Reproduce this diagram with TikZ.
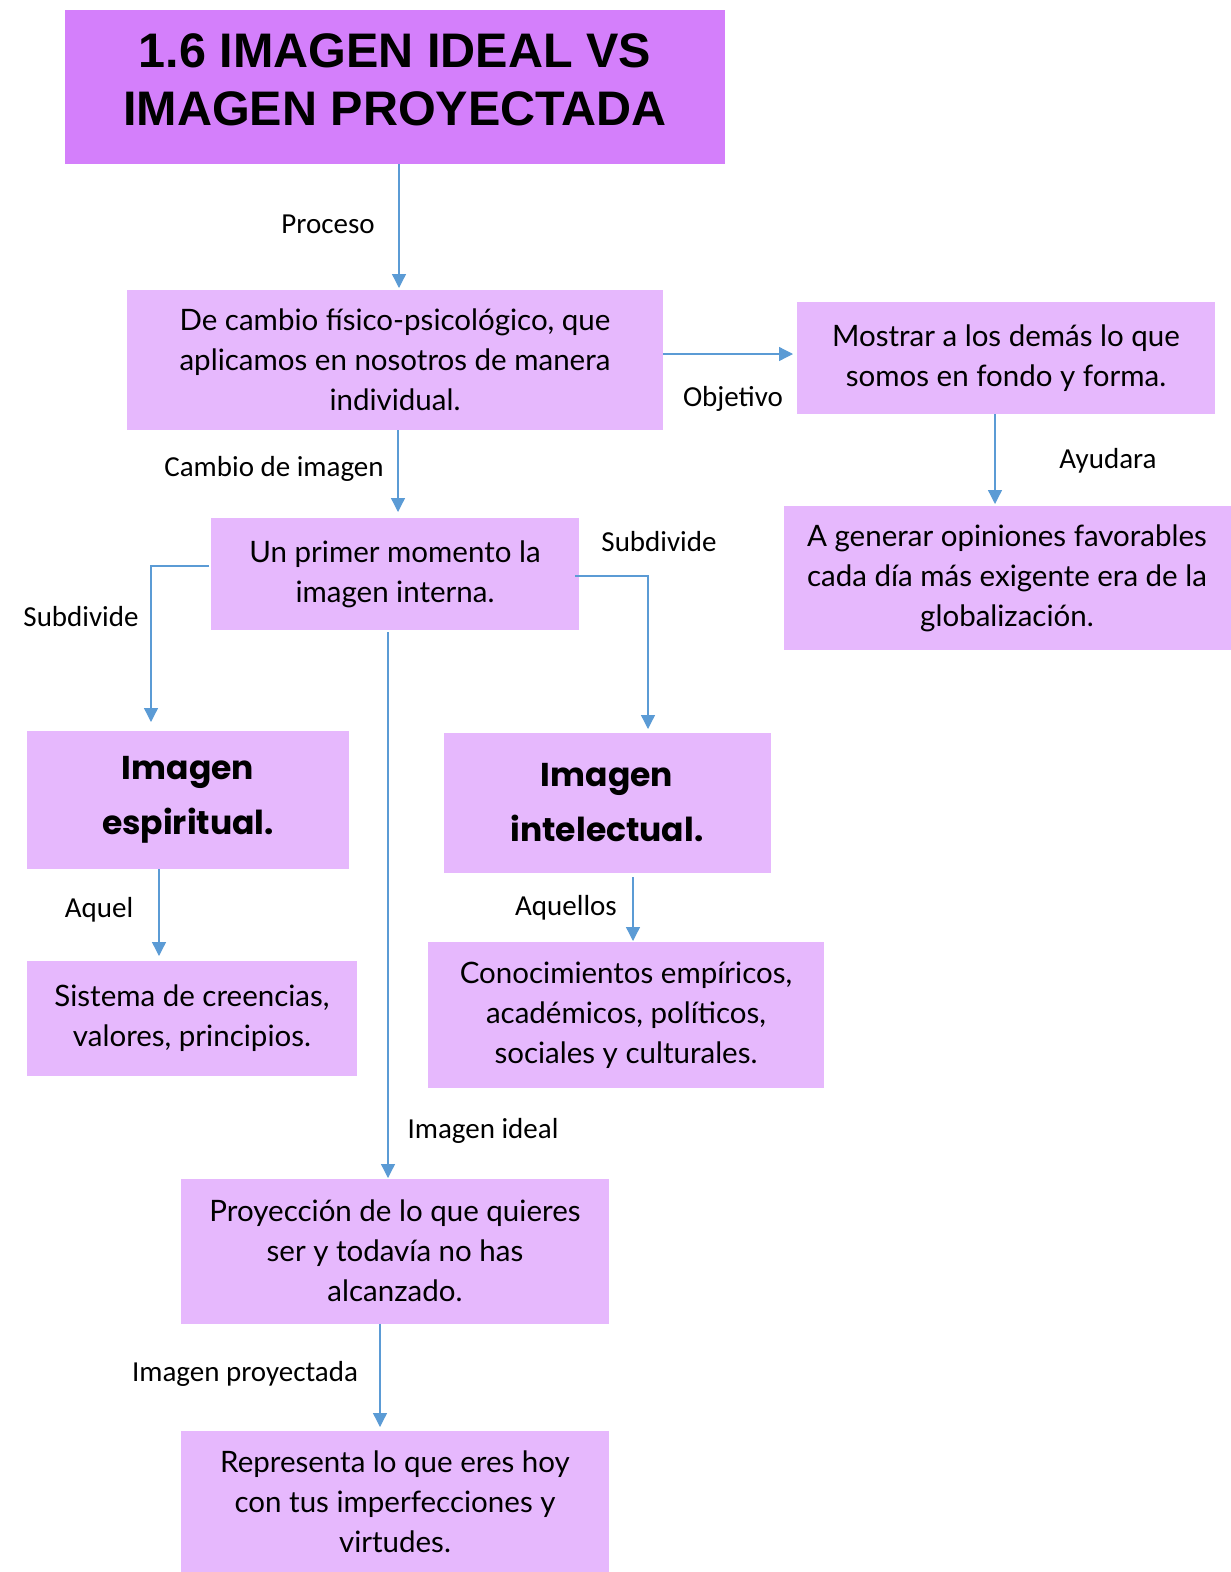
\documentclass[tikz,border=0pt]{standalone}
\usepackage{fontspec}
\setmainfont{Lato}
\newfontfamily\titlefont{Liberation Sans}
\newfontfamily\labelfont{Carlito}
\newfontfamily\handfont{Poppins}
\usetikzlibrary{arrows.meta}
\definecolor{titlefill}{HTML}{D47FFB}
\definecolor{boxfill}{HTML}{E6B8FD}
\definecolor{linkblue}{HTML}{5B9BD5}
\tikzset{
  titlebox/.style={fill=titlefill, inner sep=0pt, align=center, font=\titlefont\bfseries\fontsize{48.5}{58}\selectfont},
  textbox/.style={fill=boxfill, inner sep=0pt, align=center, font=\fontsize{29.5}{40}\selectfont},
  handbox/.style={fill=boxfill, inner sep=0pt, align=center, font=\handfont\bfseries\fontsize{33}{55}\selectfont},
  linklabel/.style={align=left, font=\labelfont\fontsize{29}{32}\selectfont},
  link/.style={draw=linkblue, line width=1.3pt, -{Triangle[width=14pt,length=14pt]}}
}

\begin{document}
\begin{tikzpicture}[x=1pt, y=-1pt]
\useasboundingbox (0,0) rectangle (1231,1572);

\node[titlebox, minimum width=660pt, text height=115pt, text depth=39pt, anchor=north] (title) at (395,10) {1.6 IMAGEN IDEAL VS\\IMAGEN PROYECTADA};

\node[textbox, minimum width=536pt, minimum height=140pt] (proceso) at (395,360) {De cambio físico-psicológico, que\\aplicamos en nosotros de manera\\individual.};

\node[textbox, minimum width=418pt, minimum height=112pt] (mostrar) at (1006,358) {Mostrar a los demás lo que\\somos en fondo y forma.};

\node[textbox, minimum width=447pt, minimum height=144pt] (generar) at (1007,578) {A generar opiniones favorables\\cada día más exigente era de la\\globalización.};

\node[textbox, minimum width=368pt, minimum height=112pt] (primer) at (395,574) {Un primer momento la\\imagen interna.};

\node[handbox, minimum width=322pt, minimum height=138pt] (espiritual) at (188,800) {Imagen\\espiritual.};

\node[handbox, minimum width=327pt, minimum height=140pt] (intelectual) at (607,803) {Imagen\\intelectual.};

\node[textbox, minimum width=330pt, minimum height=115pt] (creencias) at (192,1018) {Sistema de creencias,\\valores, principios.};

\node[textbox, minimum width=396pt, minimum height=146pt] (conocim) at (626,1015) {Conocimientos empíricos,\\académicos, políticos,\\sociales y culturales.};

\node[textbox, minimum width=428pt, minimum height=145pt] (proyeccion) at (395,1251) {Proyección de lo que quieres\\ser y todavía no has\\alcanzado.};

\node[textbox, minimum width=428pt, minimum height=141pt, anchor=north] (representa) at (395,1431) {Representa lo que eres hoy\\con tus imperfecciones y\\virtudes.};

% link labels
\node[linklabel] (lproceso) at (328,224) {Proceso};
\node[linklabel] (lobjetivo) at (733,399) {Objetivo};
\node[linklabel] (layudara) at (1108,461) {Ayudara};
\node[linklabel] (lcambio) at (274,469) {Cambio de imagen};
\node[linklabel] (lsubizq) at (81,617) {Subdivide};
\node[linklabel] (lsubder) at (659,542) {Subdivide};
\node[linklabel] (laquel) at (99,910) {Aquel};
\node[linklabel] (laquellos) at (566,908) {Aquellos};
\node[linklabel] (lideal) at (483,1131) {Imagen ideal};
\node[linklabel] (lproyect) at (245,1374) {Imagen proyectada};

% connectors
\coordinate (tproc) at (399,288);
\draw[link] (title.south -| tproc) -- (tproc);
\coordinate (tmos) at (793,354);
\draw[link] (proceso.east |- tmos) -- (tmos);
\coordinate (tgen) at (995,504);
\draw[link] (mostrar.south -| tgen) -- (tgen);
\coordinate (tprim) at (398,512);
\draw[link] (proceso.south -| tprim) -- (tprim);
\coordinate (sesp) at (209,566);
\coordinate (tesp) at (151,722);
\draw[link] (sesp) -| (tesp);
\coordinate (sint) at (575,576);
\coordinate (tint) at (648,729);
\draw[link] (sint) -| (tint);
\coordinate (tproy) at (388,1178);
\draw[link] (primer.south -| tproy) ++(0,2) -- (tproy);
\coordinate (tcre) at (159,956);
\draw[link] (espiritual.south -| tcre) -- (tcre);
\coordinate (tcon) at (633,941);
\draw[link] (633,877) -- (tcon);
\coordinate (trep) at (380,1427);
\draw[link] (proyeccion.south -| trep) -- (trep);
\end{tikzpicture}
\end{document}
